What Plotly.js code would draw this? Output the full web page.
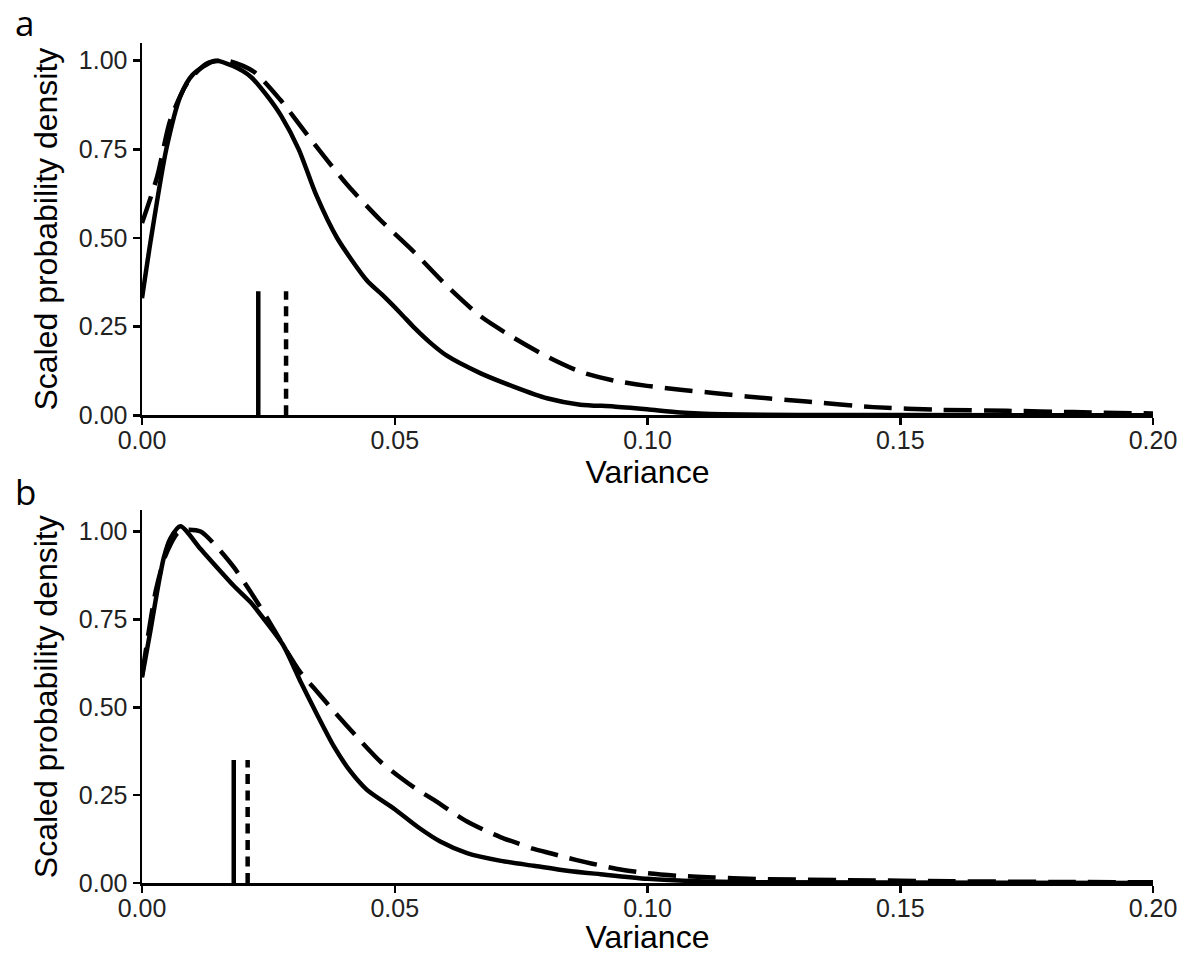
<!DOCTYPE html>
<html>
<head>
<meta charset="utf-8">
<script src="https://cdn.plot.ly/plotly-3.0.1.min.js"></script>
<style>html,body{margin:0;padding:0;background:#fff;}#chart{width:1183px;height:955px;}</style>
</head>
<body>
<div id="chart"></div>
<script>
// Panel a
var aSolidX = [0, 0.0018, 0.0048, 0.0076, 0.010, 0.0145, 0.018, 0.0215, 0.0248, 0.0275, 0.031, 0.0345, 0.0386, 0.0445, 0.0475, 0.051, 0.054, 0.057, 0.0603, 0.0669, 0.0735, 0.0801, 0.0867, 0.0933, 0.0999, 0.1065, 0.115, 0.13, 0.15, 0.2];
var aSolidY = [0.33, 0.50, 0.75, 0.90, 0.96, 1.0, 0.985, 0.955, 0.90, 0.845, 0.75, 0.62, 0.50, 0.38, 0.34, 0.29, 0.245, 0.205, 0.168, 0.119, 0.081, 0.048, 0.030, 0.025, 0.017, 0.008, 0.003, 0.001, 0.0005, 0];
var aDashX = [0, 0.003, 0.0056, 0.0089, 0.0129, 0.0168, 0.0221, 0.0274, 0.034, 0.0406, 0.0472, 0.0537, 0.0603, 0.0669, 0.0735, 0.0801, 0.0867, 0.0933, 0.0999, 0.1065, 0.113, 0.1196, 0.1315, 0.1447, 0.1579, 0.171, 0.1842, 0.2];
var aDashY = [0.542, 0.673, 0.833, 0.936, 0.993, 1.0, 0.969, 0.889, 0.767, 0.65, 0.55, 0.462, 0.365, 0.28, 0.219, 0.166, 0.123, 0.098, 0.083, 0.072, 0.063, 0.053, 0.039, 0.023, 0.0155, 0.0127, 0.009, 0.005];
var aMarkSolid = 0.0230;
var aMarkDash = 0.0285;

// Panel b
var bSolidX = [0, 0.0017, 0.003, 0.0043, 0.0056, 0.0076, 0.0116, 0.0182, 0.0214, 0.0247, 0.028, 0.0313, 0.0346, 0.0379, 0.0412, 0.0445, 0.050, 0.0545, 0.059, 0.0643, 0.071, 0.0775, 0.0841, 0.0907, 0.1, 0.11, 0.12, 0.2];
var bSolidY = [0.585, 0.72, 0.83, 0.925, 0.98, 1.015, 0.95, 0.845, 0.80, 0.74, 0.675, 0.575, 0.48, 0.39, 0.318, 0.265, 0.21, 0.16, 0.118, 0.085, 0.063, 0.049, 0.035, 0.025, 0.012, 0.005, 0.002, 0];
var bDashX = [0, 0.0027, 0.0046, 0.007, 0.0089, 0.0116, 0.0149, 0.0182, 0.0214, 0.0247, 0.028, 0.0313, 0.0346, 0.0379, 0.0432, 0.0472, 0.0511, 0.0545, 0.0577, 0.061, 0.0643, 0.0675, 0.071, 0.0745, 0.0775, 0.081, 0.0841, 0.0875, 0.0907, 0.094, 0.1, 0.1065, 0.113, 0.12, 0.14, 0.16, 0.18, 0.2];
var bDashY = [0.59, 0.83, 0.93, 0.995, 1.005, 1.0, 0.955, 0.898, 0.83, 0.755, 0.675, 0.60, 0.545, 0.49, 0.405, 0.345, 0.30, 0.265, 0.237, 0.205, 0.175, 0.152, 0.13, 0.112, 0.097, 0.084, 0.072, 0.06, 0.05, 0.04, 0.028, 0.02, 0.016, 0.012, 0.008, 0.005, 0.003, 0.002];
var bMarkSolid = 0.01815;
var bMarkDash = 0.0209;

var markHeight = 0.35;
var xTicks = [0, 0.05, 0.10, 0.15, 0.20];
var xTickText = ["0.00", "0.05", "0.10", "0.15", "0.20"];
var yTicks = [0, 0.25, 0.5, 0.75, 1.0];
var yTickText = ["0.00", "0.25", "0.50", "0.75", "1.00"];
var panelLabels = ["a", "b"];
var xTitle = "Variance";
var yTitle = "Scaled probability density";

var LW = 4.5;
function curve(x, y, xa, ya, dash) {
  return {x: x, y: y, xaxis: xa, yaxis: ya, type: 'scatter', mode: 'lines',
    line: {color: '#000', width: LW, dash: dash, shape: 'spline', smoothing: 0.7},
    hoverinfo: 'skip', showlegend: false, cliponaxis: false};
}
function mark(v, xa, ya, dash) {
  return {x: [v, v], y: [0, markHeight], xaxis: xa, yaxis: ya, type: 'scatter', mode: 'lines',
    line: {color: '#000', width: LW, dash: dash}, hoverinfo: 'skip', showlegend: false};
}

var data = [
  curve(aDashX, aDashY, 'x', 'y', '28px,12px'),
  curve(aSolidX, aSolidY, 'x', 'y', 'solid'),
  mark(aMarkSolid, 'x', 'y', 'solid'),
  mark(aMarkDash, 'x', 'y', '10px,6.5px'),
  curve(bDashX, bDashY, 'x2', 'y2', '28px,12px'),
  curve(bSolidX, bSolidY, 'x2', 'y2', 'solid'),
  mark(bMarkSolid, 'x2', 'y2', 'solid'),
  mark(bMarkDash, 'x2', 'y2', '10px,6.5px')
];

var tickFont = {family: 'Liberation Sans, Arial, sans-serif', size: 25, color: '#222'};
var titleFont = {family: 'Liberation Sans, Arial, sans-serif', size: 32, color: '#000'};

function xax(anchor) {
  return {anchor: anchor, range: [0, 0.2], tickvals: xTicks, ticktext: xTickText,
    showgrid: false, zeroline: false, showline: true, linecolor: '#000', linewidth: 2.5,
    ticks: 'outside', ticklen: 7, tickwidth: 2.5, tickcolor: '#000', tickfont: tickFont,
    ticklabelstandoff: -6,
    title: {text: xTitle, font: titleFont, standoff: 6}, automargin: false, fixedrange: true};
}
function yax(anchor, domain, top) {
  return {anchor: anchor, domain: domain, range: [0, top], tickvals: yTicks, ticktext: yTickText,
    showgrid: false, zeroline: false, showline: true, linecolor: '#000', linewidth: 2.5,
    ticks: 'outside', ticklen: 7, tickwidth: 2.5, tickcolor: '#000', tickfont: tickFont,
    title: {text: yTitle, font: titleFont, standoff: 12}, automargin: false, fixedrange: true};
}

var layout = {
  width: 1183, height: 955,
  margin: {l: 142, r: 30, t: 43, b: 71.5},
  paper_bgcolor: '#fff', plot_bgcolor: '#fff',
  xaxis: xax('y'),
  yaxis: yax('x', [0.5568, 1], 1.05),
  xaxis2: xax('y2'),
  yaxis2: yax('x2', [0, 0.4435], 1.06),
  showlegend: false,
  annotations: [
    {text: panelLabels[0], xref: 'paper', yref: 'paper', x: -0.128, y: 1.025, xanchor: 'left', yanchor: 'middle',
      showarrow: false, font: {family: 'Open Sans, sans-serif', size: 35, color: '#000'}},
    {text: panelLabels[1], xref: 'paper', yref: 'paper', x: -0.128, y: 0.4664, xanchor: 'left', yanchor: 'middle',
      showarrow: false, font: {family: 'Open Sans, sans-serif', size: 35, color: '#000'}}
  ]
};

Plotly.newPlot('chart', data, layout, {displayModeBar: false, staticPlot: true});
</script>
</body>
</html>
